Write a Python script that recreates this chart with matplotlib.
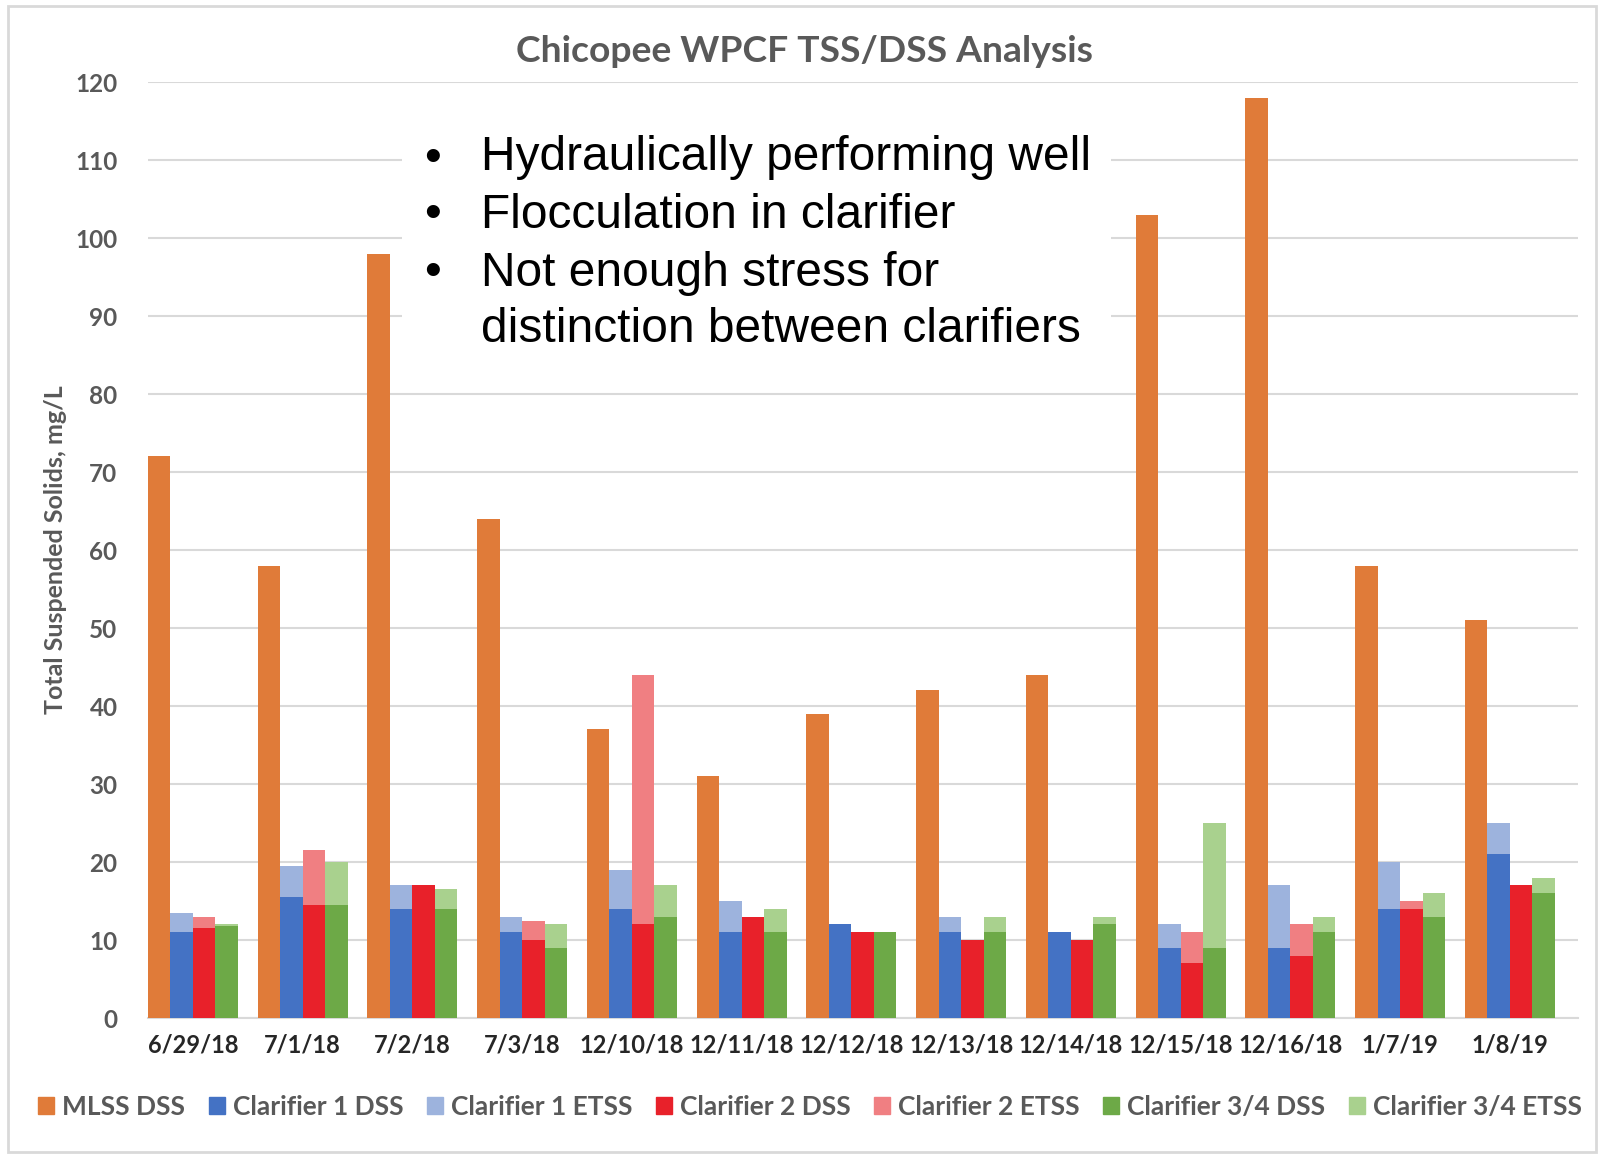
import matplotlib
matplotlib.use("Agg")
import matplotlib.pyplot as plt
from matplotlib.patches import Rectangle, Patch
import numpy as np

dates = ["6/29/18", "7/1/18", "7/2/18", "7/3/18", "12/10/18", "12/11/18", "12/12/18",
         "12/13/18", "12/14/18", "12/15/18", "12/16/18", "1/7/19", "1/8/19"]
mlss_dss = [72, 58, 98, 64, 37, 31, 39, 42, 44, 103, 118, 58, 51]
c1_dss = [11, 15.5, 14, 11, 14, 11, 12, 11, 11, 9, 9, 14, 21]
c1_etss = [13.5, 19.5, 17, 13, 19, 15, 12, 13, 11, 12, 17, 20, 25]
c2_dss = [11.5, 14.5, 17, 10, 12, 13, 11, 10, 10, 7, 8, 14, 17]
c2_etss = [13, 21.5, 17, 12.5, 44, 13, 11, 10, 10, 11, 12, 15, 17]
c34_dss = [11.8, 14.5, 14, 9, 13, 11, 11, 11, 12, 9, 11, 13, 16]
c34_etss = [12, 20, 16.5, 12, 17, 14, 11, 13, 13, 25, 13, 16, 18]

yticks = list(range(0, 121, 10))
bullets = ["Hydraulically performing well", "Flocculation in clarifier",
           "Not enough stress for", "distinction between clarifiers"]

col_mlss = "#E07B39"
col_c1 = "#4472C4"
col_c1l = "#9DB3DD"
col_c2 = "#E8212A"
col_c2l = "#F07F82"
col_c3 = "#6DA947"
col_c3l = "#A9D18E"

W, H = 1598, 1154
fig = plt.figure(figsize=(W / 100, H / 100), dpi=100)
ax = fig.add_axes([148 / W, 1 - 1018 / H, (1578 - 148) / W, (1018 - 82) / H])

x = np.arange(len(dates))
bw = 0.205
offs = [-1.5 * bw, -0.5 * bw, 0.5 * bw, 1.5 * bw]

ax.bar(x + offs[0], mlss_dss, bw, color=col_mlss, zorder=3)
ax.bar(x + offs[1], c1_etss, bw, color=col_c1l, zorder=3)
ax.bar(x + offs[1], c1_dss, bw, color=col_c1, zorder=4)
ax.bar(x + offs[2], c2_etss, bw, color=col_c2l, zorder=3)
ax.bar(x + offs[2], c2_dss, bw, color=col_c2, zorder=4)
ax.bar(x + offs[3], c34_etss, bw, color=col_c3l, zorder=3)
ax.bar(x + offs[3], c34_dss, bw, color=col_c3, zorder=4)

ax.set_xlim(-0.41, 12.62)
ax.set_ylim(0, 120)
ax.set_yticks(yticks)
ax.set_xticks(x)
ax.set_xticklabels(dates)
ax.yaxis.grid(True, color="#D9D9D9", lw=1.5, zorder=0)
ax.set_axisbelow(True)
for s in ["top", "right", "left"]:
    ax.spines[s].set_visible(False)
ax.spines["bottom"].set_color("#D9D9D9")
ax.spines["bottom"].set_linewidth(1.5)
ax.tick_params(axis="both", length=0)
ax.tick_params(axis="x", pad=11)
ax.tick_params(axis="y", pad=22)
for lab in ax.get_xticklabels():
    lab.set_fontfamily("Lato")
    lab.set_fontweight("bold")
    lab.set_fontsize(17)
    lab.set_color("#262626")
for lab in ax.get_yticklabels():
    lab.set_fontfamily("Lato")
    lab.set_fontweight("bold")
    lab.set_fontsize(17.5)
    lab.set_color("#595959")

fig.text(805 / W, 1 - 51 / H, "Chicopee WPCF TSS/DSS Analysis", ha="center", va="center",
         fontfamily="Lato", fontweight="bold", fontsize=26.8, color="#595959")
fig.text(56 / W, 1 - 550 / H, "Total Suspended Solids, mg/L", ha="center", va="center",
         rotation=90, fontfamily="Lato", fontweight="bold", fontsize=18, color="#595959")

fig.patches.append(Rectangle((402 / W, 1 - 352 / H), (1111 - 402) / W, (352 - 127) / H,
                             transform=fig.transFigure, facecolor="white", edgecolor="none", zorder=1))
ys = [158, 215, 273, 329]
for i, (t, yy) in enumerate(zip(bullets, ys)):
    if i < 3:
        fig.text(424 / W, 1 - yy / H, "•", ha="left", va="center", fontfamily="Liberation Sans",
                 fontsize=34.5, color="black", zorder=2)
    fig.text(481 / W, 1 - yy / H, t, ha="left", va="center", fontfamily="Liberation Sans",
             fontsize=34.5, color="black", zorder=2)

handles = [Patch(color=c) for c in [col_mlss, col_c1, col_c1l, col_c2, col_c2l, col_c3, col_c3l]]
labels = ["MLSS DSS", "Clarifier 1 DSS", "Clarifier 1 ETSS", "Clarifier 2 DSS",
          "Clarifier 2 ETSS", "Clarifier 3/4 DSS", "Clarifier 3/4 ETSS"]
leg = fig.legend(handles, labels, loc="center", bbox_to_anchor=(810 / W, 1 - 1107 / H), ncol=7,
                 frameon=False, handlelength=0.6, handleheight=0.6, handletextpad=0.3,
                 columnspacing=0.9, prop={"family": "Lato", "weight": "bold", "size": 19})
for t in leg.get_texts():
    t.set_color("#595959")

fig.patches.append(Rectangle((8 / W, 2 / H), (W - 10) / W, (H - 8) / H, transform=fig.transFigure,
                             facecolor="none", edgecolor="#D9D9D9", lw=2, zorder=0))

fig.savefig("out.png", dpi=100, facecolor="white")
